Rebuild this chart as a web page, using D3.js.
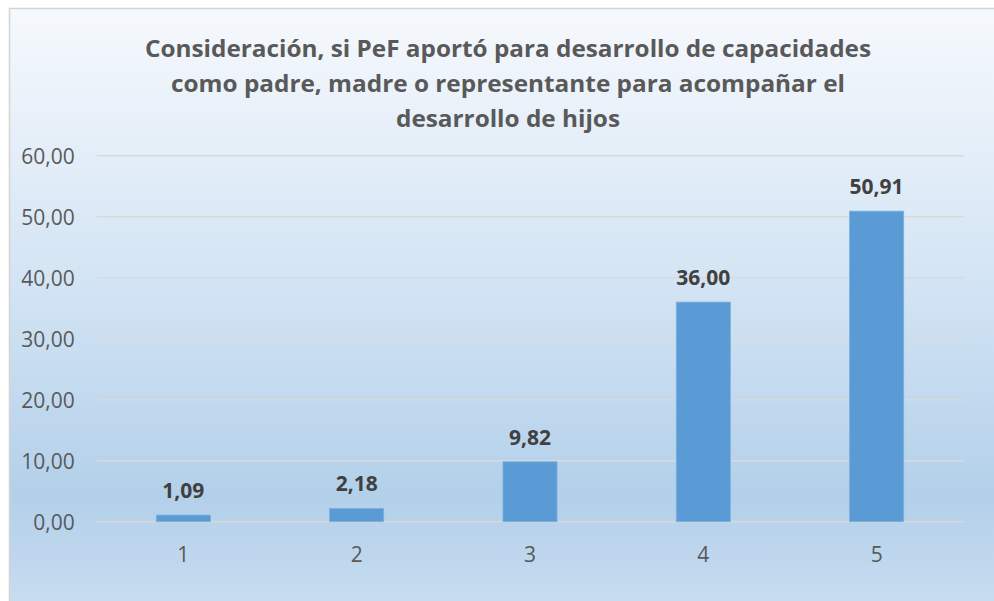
<!DOCTYPE html>
<html>
<head>
<meta charset="utf-8">
<script src="https://cdn.jsdelivr.net/npm/d3@7"></script>
<style>
  html, body { margin: 0; padding: 0; background: #ffffff; }
  svg { display: block; }
</style>
</head>
<body>
<svg id="chart" width="994" height="601"></svg>
<script>
// Chart data
const categories = ["1", "2", "3", "4", "5"];
const values = [1.09, 2.18, 9.82, 36.00, 50.91];
const yTicks = [0, 10, 20, 30, 40, 50, 60];
const titleLines = [
  "Consideración, si PeF aportó para desarrollo de capacidades",
  "como padre, madre o representante para acompañar el",
  "desarrollo de hijos"
];

const W = 994, H = 601;
const svg = d3.select("#chart");
const fmt = v => v.toFixed(2).replace(".", ",");

// Background gradient for the chart area
const defs = svg.append("defs");
const grad = defs.append("linearGradient")
  .attr("id", "bgGrad").attr("x1", 0).attr("y1", 0).attr("x2", 0).attr("y2", 1);
[[0, "#f6f9fd"], [0.45, "#d3e4f4"], [0.8, "#b3d0ea"], [1, "#cadef1"]]
  .forEach(([o, c]) => grad.append("stop").attr("offset", o).attr("stop-color", c));

svg.append("rect")
  .attr("x", 9.5).attr("y", 8.5).attr("width", 1000).attr("height", 610)
  .attr("fill", "url(#bgGrad)")
  .attr("stroke", "#d4d4d4").attr("stroke-width", 1.5);

// Title, each line fitted to its measured width
const title = svg.append("g")
  .attr("font-family", "'Open Sans', sans-serif")
  .attr("font-weight", "bold")
  .attr("font-size", 24)
  .attr("fill", "#595959")
  .attr("text-anchor", "middle");
const titleWidths = [726, 674, 224];
titleLines.forEach((t, i) => {
  title.append("text")
    .attr("x", 508).attr("y", 57 + i * 35)
    .attr("textLength", titleWidths[i])
    .attr("lengthAdjust", "spacingAndGlyphs")
    .text(t);
});

// Scales
const plot = { left: 96.7, right: 963.3, top: 155.7, bottom: 521.7 };
const x = d3.scaleBand()
  .domain(categories)
  .range([plot.left, plot.right])
  .paddingInner(0.688)
  .paddingOuter(0.344);
const y = d3.scaleLinear()
  .domain([0, 60])
  .range([plot.bottom, plot.top]);

// Gridlines
svg.append("g")
  .selectAll("line")
  .data(yTicks)
  .join("line")
  .attr("x1", plot.left).attr("x2", plot.right)
  .attr("y1", d => y(d)).attr("y2", d => y(d))
  .attr("stroke", "#d9d9d9").attr("stroke-width", 1.5);

// Y axis labels
const yAxis = svg.append("g")
  .attr("transform", `translate(${plot.left - 22},0)`)
  .call(d3.axisLeft(y).tickValues(yTicks).tickFormat(fmt).tickSize(0).tickPadding(0));
yAxis.select(".domain").remove();
yAxis.selectAll("text")
  .attr("font-family", "'Open Sans', sans-serif")
  .attr("font-size", 21)
  .attr("fill", "#595959")
  .attr("dy", "0.35em");

// X axis labels
const xAxis = svg.append("g")
  .attr("transform", `translate(0,${plot.bottom + 25})`)
  .call(d3.axisBottom(x).tickSize(0).tickPadding(0));
xAxis.select(".domain").remove();
xAxis.selectAll("text")
  .attr("font-family", "'Open Sans', sans-serif")
  .attr("font-size", 21)
  .attr("fill", "#595959");

// Bars
svg.append("g")
  .selectAll("rect")
  .data(values)
  .join("rect")
  .attr("x", (d, i) => x(categories[i]))
  .attr("width", x.bandwidth())
  .attr("y", d => y(d))
  .attr("height", d => y(0) - y(d))
  .attr("fill", "#5b9bd5")
  .attr("stroke", "#7cb0e0").attr("stroke-width", 0.8);

// Value labels
svg.append("g")
  .selectAll("text")
  .data(values)
  .join("text")
  .attr("x", (d, i) => x(categories[i]) + x.bandwidth() / 2)
  .attr("y", d => y(d) - 17)
  .attr("text-anchor", "middle")
  .attr("font-family", "'Open Sans', sans-serif")
  .attr("font-weight", "bold")
  .attr("font-size", 21)
  .attr("fill", "#404040")
  .text(fmt);
</script>
</body>
</html>
